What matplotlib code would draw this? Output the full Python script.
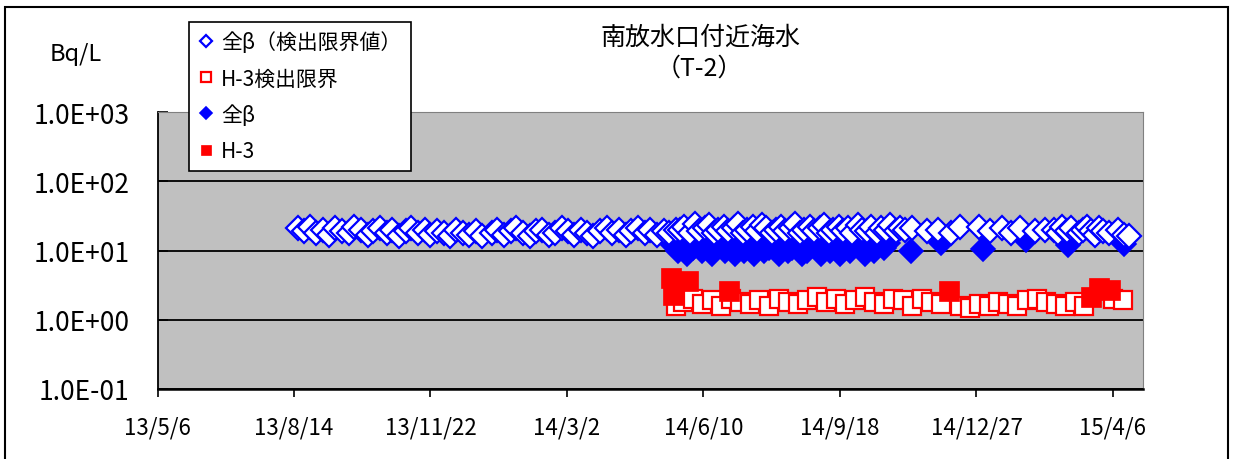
import pandas as pd
import matplotlib
matplotlib.use('Agg')
import matplotlib.pyplot as plt
from matplotlib.patches import Rectangle
from matplotlib.ticker import FixedLocator, FuncFormatter, NullLocator

plt.rcParams['font.family'] = ['Noto Sans CJK JP', 'DejaVu Sans']

# 全β detection limit (hollow diamonds)
beta_lim_dates = [
    '13/08/17', '13/08/21', '13/08/26', '13/08/30', '13/09/04', '13/09/09', '13/09/13', '13/09/18', '13/09/23', '13/09/27',
    '13/10/02', '13/10/07', '13/10/11', '13/10/16', '13/10/21', '13/10/25', '13/10/30', '13/11/04', '13/11/08', '13/11/13',
    '13/11/18', '13/11/22', '13/11/27', '13/12/02', '13/12/06', '13/12/11', '13/12/16', '13/12/20', '13/12/25', '13/12/30',
    '14/01/06', '14/01/10', '14/01/15', '14/01/20', '14/01/24', '14/01/29', '14/02/03', '14/02/07', '14/02/12', '14/02/17',
    '14/02/21', '14/02/26', '14/03/03', '14/03/07', '14/03/12', '14/03/17', '14/03/21', '14/03/26', '14/03/31', '14/04/04',
    '14/04/09', '14/04/14', '14/04/18', '14/04/23', '14/04/28', '14/05/02', '14/05/07', '14/05/12', '14/05/16', '14/05/21',
    '14/05/24', '14/05/27', '14/05/31', '14/06/04', '14/06/07', '14/06/11', '14/06/14', '14/06/18', '14/06/21', '14/06/25',
    '14/06/28', '14/07/02', '14/07/05', '14/07/09', '14/07/12', '14/07/16', '14/07/19', '14/07/23', '14/07/26', '14/07/30',
    '14/08/02', '14/08/06', '14/08/09', '14/08/13', '14/08/16', '14/08/20', '14/08/23', '14/08/27', '14/08/30', '14/09/03',
    '14/09/06', '14/09/10', '14/09/13', '14/09/17', '14/09/20', '14/09/24', '14/09/27', '14/10/01', '14/10/04', '14/10/08',
    '14/10/11', '14/10/15', '14/10/18', '14/10/22', '14/10/25', '14/10/29', '14/11/01', '14/11/05',
    '14/11/10', '14/11/21', '14/11/29', '14/12/08', '14/12/15', '14/12/29', '15/01/06', '15/01/15', '15/01/21', '15/01/28',
    '15/02/08', '15/02/15',
    '15/02/22', '15/02/25', '15/02/28', '15/03/03', '15/03/06', '15/03/12', '15/03/15', '15/03/18', '15/03/21', '15/03/24',
    '15/03/27', '15/03/30', '15/04/03', '15/04/10', '15/04/14', '15/04/18',
]
beta_lim_vals = [
    21, 19, 22, 18, 20, 17, 21, 19, 18, 22,
    20, 17, 19, 21, 18, 20, 16, 19, 21, 18,
    20, 17, 19, 18, 16, 20, 18, 17, 19, 16,
    18, 20, 17, 19, 21, 18, 16, 19, 20, 17,
    18, 21, 19, 17, 20, 18, 16, 19, 21, 18,
    20, 17, 19, 21, 18, 20, 17, 19, 18, 20,
    20, 22, 18, 24, 19, 21, 23, 18, 20, 22,
    19, 21, 24, 18, 20, 22, 19, 23, 21, 18,
    20, 22, 19, 21, 24, 18, 20, 22, 19, 21,
    23, 18, 20, 22, 19, 21, 18, 23, 20, 19,
    22, 18, 21, 20, 23, 19, 21, 20,
    21, 19, 20, 18, 22, 22, 19, 21, 18, 21,
    19, 20,
    20, 18, 22, 19, 21, 18, 20, 22, 19, 17,
    21, 19, 18, 20, 17, 16,
]

# 全β detected (filled diamonds)
beta_dates = [
    '14/05/19', '14/05/22', '14/05/26', '14/05/29', '14/06/02', '14/06/05', '14/06/09', '14/06/12', '14/06/16', '14/06/19',
    '14/06/23', '14/06/26', '14/06/30', '14/07/03', '14/07/07', '14/07/10', '14/07/14', '14/07/17', '14/07/21', '14/07/24',
    '14/07/28', '14/07/31', '14/08/04', '14/08/07', '14/08/11', '14/08/14', '14/08/18', '14/08/21', '14/08/25', '14/08/28',
    '14/09/01', '14/09/04', '14/09/08', '14/09/11', '14/09/15', '14/09/18', '14/09/22', '14/09/25', '14/09/29', '14/10/02',
    '14/10/06', '14/10/09', '14/10/13', '14/10/16', '14/10/20', '14/10/23',
    '14/11/09', '14/12/01', '15/01/01', '15/02/01', '15/03/04', '15/04/14',
]
beta_vals = [
    12, 10, 13, 9, 11, 14, 10, 12, 9, 11,
    13, 10, 12, 9, 11, 10, 13, 9, 12, 10,
    11, 14, 9, 12, 10, 11, 13, 9, 10, 12,
    11, 9, 13, 10, 12, 9, 11, 10, 12, 13,
    9, 11, 10, 12, 11, 13,
    9.7, 13, 10.5, 14, 12, 12.5,
]

# H-3 detection limit (hollow squares)
h3_lim_dates = [
    '14/05/21', '14/05/26', '14/06/02', '14/06/09', '14/06/16', '14/06/23', '14/06/30', '14/07/07', '14/07/14', '14/07/21',
    '14/07/28', '14/08/04', '14/08/11', '14/08/18', '14/08/25', '14/09/01', '14/09/08', '14/09/15', '14/09/22', '14/09/29',
    '14/10/06', '14/10/13', '14/10/20', '14/10/27', '14/11/03', '14/11/10', '14/11/17', '14/11/24', '14/12/01', '14/12/15',
    '14/12/22', '14/12/29', '15/01/05', '15/01/12', '15/01/19', '15/01/26', '15/02/02', '15/02/09', '15/02/16', '15/02/23',
    '15/03/02', '15/03/09', '15/03/16', '15/04/06', '15/04/13',
]
h3_lim_vals = [
    1.6, 1.8, 2.0, 1.7, 1.9, 1.6, 2.0, 1.8, 1.7, 1.9,
    1.6, 2.0, 1.8, 1.7, 1.9, 2.1, 1.8, 2.0, 1.7, 1.9,
    2.1, 1.8, 1.7, 2.0, 1.9, 1.6, 2.0, 1.8, 1.7, 1.6,
    1.5, 1.7, 1.6, 1.8, 1.7, 1.6, 1.9, 2.0, 1.8, 1.7,
    1.6, 1.8, 1.6, 2.0, 1.9,
]

# H-3 detected (filled squares)
h3_dates = ['14/05/17', '14/05/19', '14/05/30', '14/06/29', '14/12/07', '15/03/21', '15/03/27', '15/04/04']
h3_vals = [4.0, 2.3, 3.6, 2.6, 2.6, 2.1, 2.9, 2.7]

tick_dates = ['13/05/06', '13/08/14', '13/11/22', '14/03/02', '14/06/10', '14/09/18', '14/12/27', '15/04/06']
tick_labels = ['13/5/6', '13/8/14', '13/11/22', '14/3/2', '14/6/10', '14/9/18', '14/12/27', '15/4/6']


def to_dt(lst):
    return pd.to_datetime(lst, format='%y/%m/%d')


fig = plt.figure(figsize=(12.33, 4.60), dpi=100)
ax = fig.add_axes([157.5 / 1233, 1 - 390 / 460, (1143 - 157.5) / 1233, (390 - 113) / 460])
ax.set_facecolor('#C0C0C0')

h_bl, = ax.plot(to_dt(beta_dates), beta_vals, 'D', ms=12.5, mfc='#0000FF', mec='#0000FF', mew=1.2,
                zorder=3, label='全β')
h_bo, = ax.plot(to_dt(beta_lim_dates), beta_lim_vals, 'D', ms=12.5, mfc='white', mec='#0000FF', mew=1.6,
                zorder=4, label='全β（検出限界値）')
h_ro, = ax.plot(to_dt(h3_lim_dates), h3_lim_vals, 's', ms=13.5, mfc='white', mec='#FF0000', mew=1.6,
                zorder=5, label='H-3検出限界')
h_rf, = ax.plot(to_dt(h3_dates), h3_vals, 's', ms=14.5, mfc='#FF0000', mec='#FF0000', mew=0.5,
                zorder=6, label='H-3')

ax.set_yscale('log')
ax.set_ylim(0.1, 1000)
ax.yaxis.set_major_locator(FixedLocator([0.1, 1, 10, 100, 1000]))
ax.yaxis.set_minor_locator(NullLocator())
ax.yaxis.set_major_formatter(FuncFormatter(lambda v, p: f'{v:.1E}'))
ax.grid(axis='y', color='black', lw=1.3)

start = pd.Timestamp('2013-05-06')
ax.set_xlim(start, start + pd.Timedelta(days=722))
ax.set_xticks(to_dt(tick_dates))
ax.set_xticklabels(tick_labels)
ax.xaxis.set_minor_locator(NullLocator())

ax.tick_params(axis='y', direction='in', length=7, width=1.2, labelsize=19, pad=20)
ax.tick_params(axis='x', direction='out', length=6, width=1.2, labelsize=16, pad=13)
ax.spines['left'].set_color('black')
ax.spines['bottom'].set_color('black')
ax.spines['left'].set_linewidth(1.3)
ax.spines['bottom'].set_linewidth(1.8)
ax.spines['top'].set_color('#808080')
ax.spines['right'].set_color('#808080')
ax.set_axisbelow(True)

fig.text(700 / 1233, 1 - 38 / 460, '南放水口付近海水', ha='center', va='center', fontsize=18)
fig.text(699 / 1233, 1 - 69 / 460, '（T-2）', ha='center', va='center', fontsize=18)
fig.text(76 / 1233, 1 - 54 / 460, 'Bq/L', ha='center', va='center', fontsize=17)

leg = fig.legend(handles=[h_bo, h_ro, h_bl, h_rf], loc='upper left',
                 bbox_to_anchor=(189 / 1233, 1 - 23 / 460), borderaxespad=0,
                 fontsize=15, markerscale=0.5, handlelength=0.7, handletextpad=0.4,
                 labelspacing=0.68, borderpad=0.45, fancybox=False, framealpha=1,
                 edgecolor='black')
leg.get_frame().set_linewidth(1.2)
leg.set_zorder(10)

fig.add_artist(Rectangle((5 / 1233, -0.1), (1228 - 5) / 1233, 1.1 - 8 / 460,
                         transform=fig.transFigure, fill=False, ec='black', lw=1.5))

plt.savefig('out.png', dpi=100)
